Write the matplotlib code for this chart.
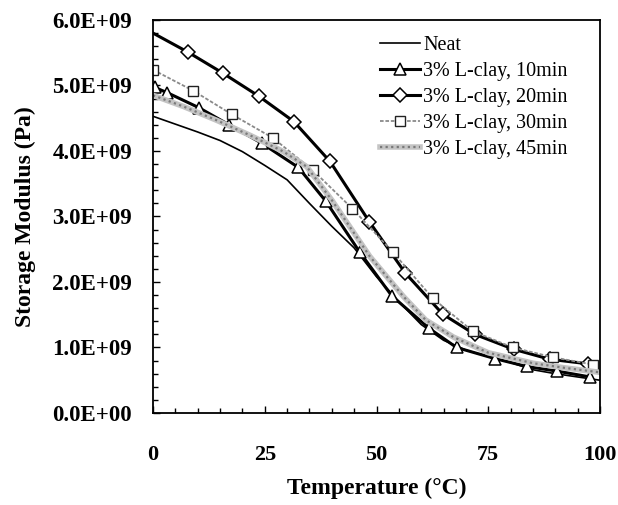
import matplotlib
matplotlib.use("Agg")
import matplotlib.pyplot as plt
from matplotlib.ticker import MultipleLocator

plt.rcParams['font.family'] = ['Liberation Serif', 'DejaVu Serif']

# storage modulus, units of 1e9 Pa
neat_t = [0, 5, 10, 15, 20, 25, 30, 35, 40, 45, 50, 55, 60, 65, 70, 75, 80, 85, 90, 95, 100]
neat_e = [4.53, 4.41, 4.29, 4.16, 3.99, 3.78, 3.56, 3.20, 2.85, 2.52, 2.08, 1.70, 1.35,
          1.11, 0.96, 0.86, 0.77, 0.66, 0.60, 0.55, 0.50]

c10_t = [0.4, 3.2, 10.3, 17.0, 24.3, 32.5, 38.7, 46.2, 53.4, 61.8, 67.9, 76.5, 83.6, 90.3, 97.8]
c10_e = [4.97, 4.89, 4.66, 4.40, 4.12, 3.75, 3.23, 2.46, 1.79, 1.29, 1.00, 0.83, 0.71, 0.64, 0.55]

c20_t = [0, 7.8, 15.6, 23.6, 31.5, 39.6, 48.4, 56.4, 64.8, 72.0, 80.8, 88.8, 97.4]
c20_e = [5.80, 5.51, 5.19, 4.84, 4.45, 3.84, 2.92, 2.14, 1.51, 1.20, 0.97, 0.82, 0.75]

c30_t = [0, 9.0, 17.6, 26.8, 35.7, 44.6, 53.6, 62.6, 71.5, 80.5, 89.5, 98.4]
c30_e = [5.24, 4.92, 4.56, 4.20, 3.71, 3.12, 2.46, 1.75, 1.25, 1.00, 0.85, 0.74]

c45_t = [0, 6.8, 14.2, 21.7, 29.2, 34.4, 40.0, 48.5, 56.0, 61.0, 67.2, 75, 85, 92, 100]
c45_e = [4.85, 4.68, 4.47, 4.24, 3.99, 3.76, 3.25, 2.39, 1.78, 1.42, 1.16, 0.92, 0.76, 0.69, 0.62]

labels = ['Neat', '3% L-clay, 10min', '3% L-clay, 20min', '3% L-clay, 30min', '3% L-clay, 45min']
ytick_vals = [0, 1, 2, 3, 4, 5, 6]
ytick_text = ['0.0E+00', '1.0E+09', '2.0E+09', '3.0E+09', '4.0E+09', '5.0E+09', '6.0E+09']

fig = plt.figure(figsize=(6.18, 5.05), dpi=100)
ax = fig.add_axes([0.2476, 0.1822, 0.9709 - 0.2476, 0.9604 - 0.1822])

h_neat, = ax.plot(neat_t, neat_e, color='black', lw=1.2)
h10, = ax.plot(c10_t, c10_e, color='black', lw=2.2, marker='^', ms=8,
               mfc='white', mec='black', mew=1.1)
h20, = ax.plot(c20_t, c20_e, color='black', lw=2.2, marker='D', ms=7,
               mfc='white', mec='black', mew=1.1, markevery=slice(1, None))
h30, = ax.plot(c30_t, c30_e, color='#8a8a8a', lw=1.3, ls=(0, (2, 1)), marker='s', ms=7,
               mfc='white', mec='#222222', mew=1.0)
h45a, = ax.plot(c45_t, c45_e, color='#c4c4c4', lw=4)
h45b, = ax.plot(c45_t, c45_e, color='#7a7a7a', lw=1.6, ls=(0, (1, 1.5)))

ax.legend([h_neat, h10, h20, h30, (h45a, h45b)], labels, loc='upper left',
          bbox_to_anchor=(0.49, 0.981), frameon=False, fontsize=14.5,
          handlelength=2.0, handletextpad=0.15, labelspacing=0.35, borderaxespad=0)

ax.set_xlim(0, 100)
ax.set_ylim(0, 6)
ax.set_xticks([0, 25, 50, 75, 100])
ax.xaxis.set_minor_locator(MultipleLocator(5))
ax.set_yticks(ytick_vals)
ax.set_yticklabels(ytick_text)
ax.yaxis.set_minor_locator(MultipleLocator(0.2))
ax.tick_params(which='both', direction='in', top=False, right=False, width=1)
ax.tick_params(which='major', length=5)
ax.tick_params(which='minor', length=3.5)
ax.tick_params(axis='x', which='major', labelsize=16, pad=23)
ax.tick_params(axis='y', which='major', labelsize=16.5, pad=15)
for lab in ax.get_xticklabels() + ax.get_yticklabels():
    lab.set_fontweight('bold')
for sp in ax.spines.values():
    sp.set_linewidth(1.3)

ax.set_xlabel('Temperature (°C)', fontsize=17, fontweight='bold', labelpad=9)
ax.set_ylabel('Storage Modulus (Pa)', fontsize=17, fontweight='bold', labelpad=12)

fig.savefig('out.png', dpi=100)
